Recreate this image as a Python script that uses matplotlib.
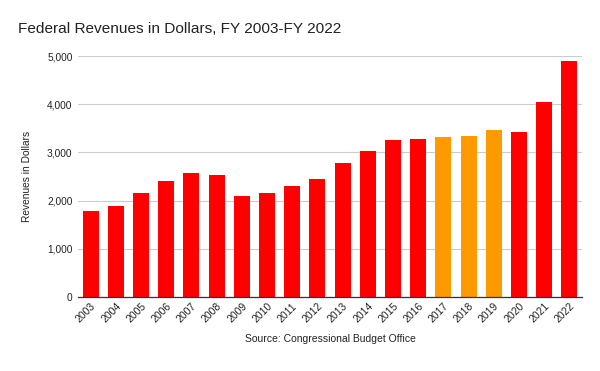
import matplotlib
matplotlib.use("Agg")
import matplotlib.pyplot as plt

years = ["2003", "2004", "2005", "2006", "2007", "2008", "2009", "2010", "2011", "2012",
         "2013", "2014", "2015", "2016", "2017", "2018", "2019", "2020", "2021", "2022"]
revenues = [1782, 1880, 2153, 2406, 2568, 2524, 2105, 2163, 2303, 2450,
            2775, 3021, 3250, 3268, 3316, 3330, 3463, 3421, 4047, 4896]
highlight_years = ["2017", "2018", "2019"]
yticks = [0, 1000, 2000, 3000, 4000, 5000]

plt.rcParams['font.family'] = ['Liberation Sans', 'DejaVu Sans']

fig = plt.figure(figsize=(6, 3.71), dpi=100)
ax = fig.add_axes([78/600, 1 - 297/371, 504/600, 241/371])

colors = ["#FF9900" if y in highlight_years else "#FF0000" for y in years]
x = range(len(years))
ax.bar(x, revenues, width=0.63, color=colors, zorder=3)

ax.set_xlim(-0.5, len(years) - 0.5)
ax.set_ylim(0, 5000)
ax.set_yticks(yticks)
ax.set_yticklabels([f"{v:,}" for v in yticks], fontsize=7.3, color="#222222")
ax.set_xticks(list(x))
ax.set_xticklabels(years, rotation=45, ha="right", rotation_mode="anchor", fontsize=7.5, color="#222222")
ax.grid(axis="y", color="#cccccc", linewidth=0.8, zorder=0)
for s in ["top", "right", "left"]:
    ax.spines[s].set_visible(False)
ax.spines["bottom"].set_color("#333333")
ax.spines["bottom"].set_linewidth(0.9)
ax.spines["bottom"].set_zorder(4)
ax.tick_params(axis="y", length=0, pad=4)
ax.tick_params(axis="x", length=0, pad=3)

ax.set_ylabel("Revenues in Dollars", fontsize=7.3, color="#222222", labelpad=11)
xl = ax.set_xlabel("Source: Congressional Budget Office", fontsize=7.5, color="#222222", labelpad=7)

fig.text(18/600, 1 - 29/371, "Federal Revenues in Dollars, FY 2003-FY 2022", fontsize=11.1,
         color="#222222", va="center", ha="left")

fig.savefig("out.png", dpi=100)
